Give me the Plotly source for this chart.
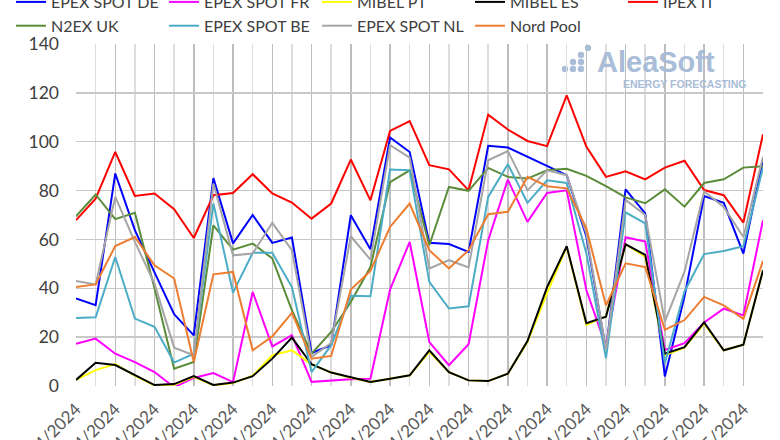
import plotly.graph_objects as go

dates = ["01/04/2024", "02/04/2024", "03/04/2024", "04/04/2024", "05/04/2024", "06/04/2024",
         "07/04/2024", "08/04/2024", "09/04/2024", "10/04/2024", "11/04/2024", "12/04/2024",
         "13/04/2024", "14/04/2024", "15/04/2024", "16/04/2024", "17/04/2024", "18/04/2024",
         "19/04/2024", "20/04/2024", "21/04/2024", "22/04/2024", "23/04/2024", "24/04/2024",
         "25/04/2024", "26/04/2024", "27/04/2024", "28/04/2024", "29/04/2024", "30/04/2024",
         "01/05/2024", "02/05/2024", "03/05/2024", "04/05/2024", "05/05/2024", "06/05/2024"]

epex_de = [35.8, 33.1, 87.0, 63.8, 46.5, 29.4, 20.7, 85.1, 58.4, 70.0, 58.6, 60.8,
           13.5, 16.7, 69.9, 56.0, 101.7, 95.8, 58.6, 58.1, 54.9, 98.3, 97.6, 93.8,
           90.0, 86.3, 61.2, 14.8, 80.5, 70.7, 3.9, 36.6, 77.8, 75.0, 54.2, 92.7]
epex_fr = [17.3, 19.4, 13.2, 9.8, 5.7, -0.5, 3.3, 5.3, 1.6, 38.5, 16.2, 20.8,
           1.7, 2.3, 2.8, 3.0, 39.5, 59.0, 18.0, 8.5, 17.1, 59.7, 84.5, 67.2,
           79.0, 80.1, 39.3, 16.2, 60.9, 59.1, 14.8, 17.5, 26.0, 31.7, 28.9, 67.9]
mibel_pt = [2.5, 6.5, 9.0, 4.2, 0.2, 0.5, 3.8, 0.3, 1.2, 4.2, 12.6, 14.6,
            8.9, 5.5, 3.4, 1.6, 3.0, 4.4, 14.0, 5.7, 2.3, 2.0, 5.0, 18.0,
            38.0, 57.0, 25.0, 28.5, 58.0, 53.0, 12.6, 15.7, 25.5, 14.6, 16.9, 47.4]
mibel_es = [2.5, 9.5, 8.6, 4.5, 0.4, 0.8, 4.1, 0.4, 1.4, 4.0, 11.2, 19.8,
            8.9, 5.5, 3.4, 1.6, 3.0, 4.4, 14.6, 5.7, 2.3, 2.0, 5.0, 18.4,
            40.5, 57.2, 25.7, 28.4, 58.0, 53.7, 13.2, 15.9, 26.0, 14.6, 16.9, 47.4]
ipex_it = [67.9, 76.7, 95.8, 77.8, 78.8, 72.4, 60.6, 78.1, 79.0, 86.7, 78.8, 75.1,
           68.5, 74.7, 92.7, 76.0, 104.4, 108.4, 90.4, 88.7, 80.1, 111.1, 105.0, 100.3,
           98.2, 119.0, 98.0, 85.6, 87.9, 84.6, 89.4, 92.2, 80.2, 78.1, 66.9, 103.1]
n2ex_uk = [69.5, 78.4, 68.3, 70.9, 40.0, 7.1, 9.8, 65.8, 55.8, 58.3, 52.2, 31.0,
           13.2, 22.1, 34.4, 48.7, 83.5, 88.3, 57.6, 81.5, 79.9, 89.3, 85.6, 84.9,
           88.3, 88.9, 86.0, 81.8, 77.2, 74.8, 80.5, 73.4, 83.1, 84.6, 89.4, 90.0]
epex_be = [27.8, 28.1, 52.8, 27.6, 24.2, 9.6, 13.2, 74.7, 38.2, 54.5, 54.5, 40.5,
           5.7, 16.7, 36.9, 36.7, 88.6, 88.3, 42.6, 31.7, 32.6, 77.4, 90.8, 75.0,
           84.2, 83.1, 54.4, 11.4, 71.1, 66.6, 9.3, 38.7, 54.0, 55.3, 57.2, 89.4]
epex_nl = [43.0, 41.6, 77.4, 59.0, 41.9, 15.7, 12.6, 82.9, 53.5, 54.2, 66.8, 55.6,
           11.9, 17.6, 61.3, 51.7, 98.6, 93.5, 48.1, 51.5, 48.5, 92.4, 96.2, 80.1,
           88.3, 86.3, 62.5, 14.8, 76.2, 70.0, 26.4, 46.8, 79.6, 73.3, 61.0, 93.8]
nord_pool = [40.5, 41.6, 57.3, 61.0, 49.4, 44.0, 9.8, 45.7, 46.7, 14.6, 20.3, 29.9,
             11.2, 12.3, 39.5, 47.1, 65.1, 74.7, 55.6, 48.1, 55.6, 70.3, 71.3, 85.6,
             81.8, 80.9, 64.6, 33.0, 50.2, 48.7, 23.0, 27.0, 36.5, 33.0, 27.5, 51.2]

series_names = ["EPEX SPOT DE", "EPEX SPOT FR", "MIBEL PT", "MIBEL ES", "IPEX IT",
                "N2EX UK", "EPEX SPOT BE", "EPEX SPOT NL", "Nord Pool"]
series_values = [epex_de, epex_fr, mibel_pt, mibel_es, ipex_it, n2ex_uk, epex_be, epex_nl, nord_pool]
series_colors = ["#0000ff", "#ff00ff", "#ffff00", "#000000", "#ff0000",
                 "#5b8c3a", "#4bacc6", "#a5a5a5", "#ed7d31"]

x_idx = list(range(len(dates)))
tick_idx = x_idx[::2]
tick_text = dates[::2]

FONT = "Lato"

fig = go.Figure()
for name, vals, col in zip(series_names, series_values, series_colors):
    fig.add_trace(go.Scatter(x=x_idx, y=vals, name=name, mode="lines",
                             line=dict(color=col, width=2), hoverinfo="skip"))

# watermark
fig.add_annotation(text="<b>AleaSoft</b>", xref="paper", yref="paper", x=0.933, y=0.948,
                   xanchor="right", yanchor="middle", showarrow=False,
                   font=dict(family="Liberation Sans", size=29, color="#a9bcd8"))
fig.add_annotation(text="<b>ENERGY FORECASTING</b>", xref="paper", yref="paper", x=0.979, y=0.884,
                   xanchor="right", yanchor="middle", showarrow=False,
                   font=dict(family="Liberation Sans", size=10.5, color="#a9bcd8"))
dots = [(565, 69), (573, 62), (573, 69), (581, 55), (581, 62), (581, 69), (588, 48)]
for (px, py) in dots:
    cx = (px - 76) / 687
    cy = (386 - py) / 342
    rx = 3.2 / 687
    ry = 3.2 / 342
    fig.add_shape(type="circle", xref="paper", yref="paper",
                  x0=cx - rx, x1=cx + rx, y0=cy - ry, y1=cy + ry,
                  fillcolor="#a9bcd8", line=dict(width=0), layer="below")

fig.update_layout(
    width=780, height=440,
    margin=dict(l=76, r=17, t=44, b=54, autoexpand=False),
    paper_bgcolor="white", plot_bgcolor="white",
    font=dict(family=FONT, size=16, color="#404040"),
    showlegend=True,
    legend=dict(orientation="h", x=-0.0946, xanchor="left", y=1.1725, yanchor="top",
                entrywidth=108, entrywidthmode="pixels", traceorder="normal",
                font=dict(family=FONT, size=16, color="#404040"),
                bgcolor="rgba(0,0,0,0)", itemclick=False),
    xaxis=dict(range=[0, 35], tickmode="array", tickvals=tick_idx, ticktext=tick_text,
               tickangle=-45, showgrid=True, gridcolor="#bdbdbd", gridwidth=1.5,
               minor=dict(dtick=1, tick0=0, showgrid=True, gridcolor="#dddddd", gridwidth=1.5),
               zeroline=False, showline=False, ticks="", ticklabelstandoff=9,
               tickfont=dict(family=FONT, size=17, color="#595959")),
    yaxis=dict(range=[0, 140], dtick=20, tick0=0, showgrid=True, gridcolor="#c8c8c8", gridwidth=1.5,
               zeroline=False, showline=False, ticks="", ticklabelstandoff=16,
               tickfont=dict(family=FONT, size=17.5, color="#404040")),
)

fig.write_html("out.html", config={"displayModeBar": False, "staticPlot": True},
               post_script="document.body.style.margin='0';document.body.style.padding='0';")
